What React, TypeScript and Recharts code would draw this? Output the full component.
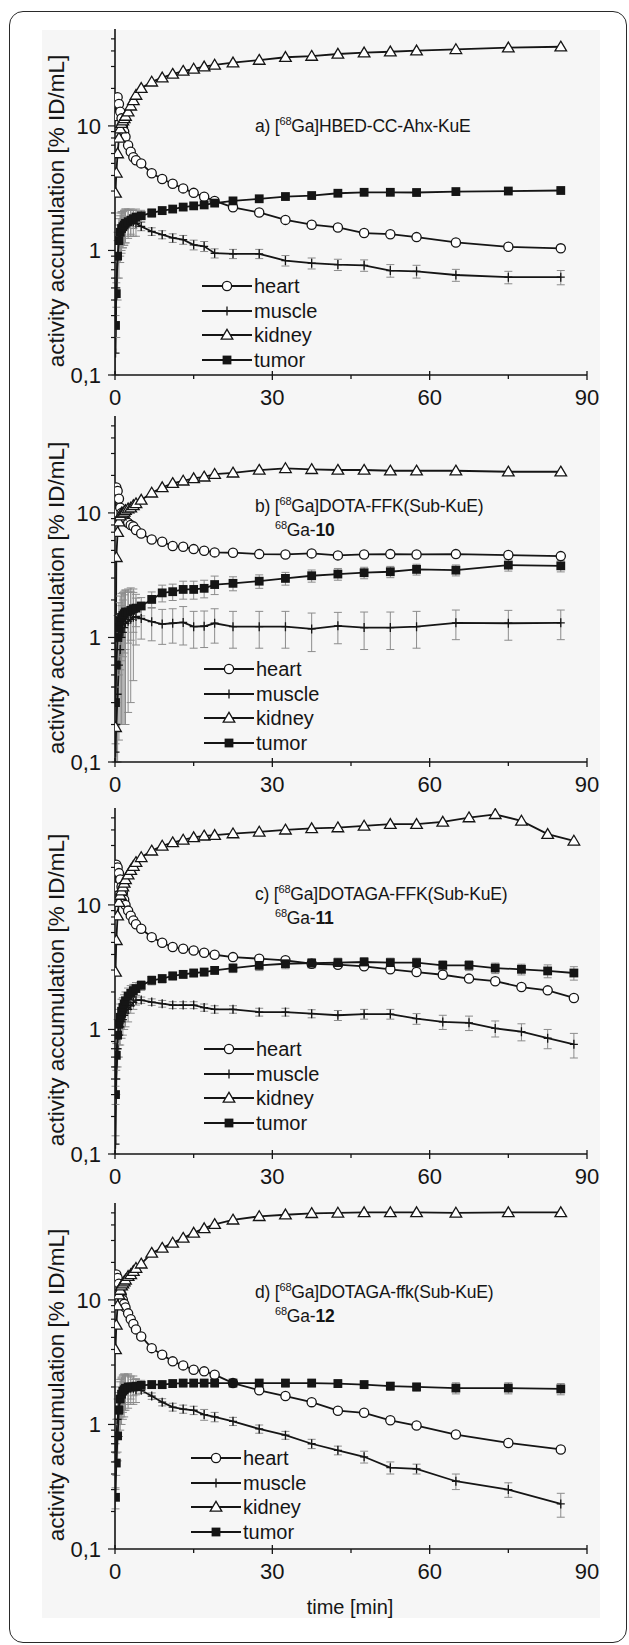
import React from "react";
import { LineChart, Line, XAxis, YAxis, ErrorBar, Legend } from "recharts";

// frame mid-times [min]
const timesABD = [0.1, 0.25, 0.5, 0.75, 1, 1.25, 1.5, 1.75, 2, 2.5, 3, 3.5, 4, 5, 7, 9, 11, 13, 15, 17, 19, 22.5, 27.5, 32.5, 37.5, 42.5, 47.5, 52.5, 57.5, 65, 75, 85];
const timesC = [0.1, 0.25, 0.5, 0.75, 1, 1.25, 1.5, 1.75, 2, 2.5, 3, 3.5, 4, 5, 7, 9, 11, 13, 15, 17, 19, 22.5, 27.5, 32.5, 37.5, 42.5, 47.5, 52.5, 57.5, 62.5, 67.5, 72.5, 77.5, 82.5, 87.5];

// a) [68Ga]HBED-CC-Ahx-KuE
const heartA = [12, 16.5, 17, 15, 13, 11.5, 10, 9, 8.2, 7, 6.2, 5.6, 5.3, 5.0, 4.17, 3.75, 3.43, 3.15, 2.9, 2.7, 2.5, 2.22, 2.02, 1.76, 1.61, 1.53, 1.38, 1.35, 1.28, 1.16, 1.07, 1.04];
const muscleA = [0.15, 0.5, 0.9, 1.2, 1.4, 1.5, 1.55, 1.6, 1.65, 1.7, 1.7, 1.7, 1.65, 1.56, 1.42, 1.34, 1.26, 1.22, 1.11, 1.08, 0.95, 0.94, 0.94, 0.83, 0.79, 0.77, 0.76, 0.69, 0.68, 0.635, 0.61, 0.61];
const kidneyA = [2.9, 4.2, 6.0, 8.0, 9.5, 10.5, 11, 11.5, 12, 13, 14.5, 16, 17.7, 20.1, 22.6, 24.4, 26.1, 27.6, 28.7, 29.9, 30.9, 32.2, 33.8, 35.6, 36.4, 37.8, 38.7, 39.4, 40.2, 41.2, 42.5, 43.2];
const tumorA = [0.25, 0.45, 0.9, 1.2, 1.4, 1.5, 1.55, 1.6, 1.65, 1.7, 1.75, 1.8, 1.85, 1.9, 2.0, 2.09, 2.15, 2.23, 2.28, 2.32, 2.4, 2.5, 2.6, 2.71, 2.76, 2.88, 2.93, 2.93, 2.92, 2.97, 3.0, 3.03];
const muscleErrA = [0.05, 0.3, 0.5, 0.6, 0.6, 0.55, 0.5, 0.5, 0.5, 0.45, 0.4, 0.4, 0.35, 0.12, 0.1, 0.1, 0.1, 0.1, 0.1, 0.1, 0.08, 0.08, 0.08, 0.08, 0.08, 0.08, 0.08, 0.08, 0.08, 0.07, 0.07, 0.08];
const tumorErrA = [0.05, 0.1, 0.3, 0.4, 0.5, 0.5, 0.5, 0.5, 0.5, 0.4, 0.4, 0.3, 0.3, 0.2, 0.15, 0.15, 0.12, 0.12, 0.1, 0.1, 0.1, 0.1, 0.1, 0.1, 0.1, 0.1, 0.1, 0.1, 0.1, 0.1, 0.1, 0.1];

// b) [68Ga]DOTA-FFK(Sub-KuE)
const heartB = [10, 16, 15, 13, 11, 10, 9.5, 9, 8.7, 8.3, 8, 7.8, 7.3, 6.84, 6.12, 5.87, 5.42, 5.35, 5.12, 4.97, 4.82, 4.79, 4.67, 4.64, 4.73, 4.56, 4.64, 4.67, 4.64, 4.67, 4.59, 4.5];
const muscleB = [0.12, 0.2, 0.35, 0.6, 0.8, 1.0, 1.1, 1.2, 1.3, 1.35, 1.4, 1.45, 1.47, 1.42, 1.34, 1.28, 1.3, 1.32, 1.22, 1.23, 1.3, 1.22, 1.22, 1.22, 1.17, 1.24, 1.2, 1.2, 1.22, 1.31, 1.3, 1.31];
const kidneyB = [0.19, 4.4, 7, 8.5, 9.5, 10, 10, 10.2, 10.5, 10.8, 11, 11.5, 11.9, 12.7, 14.5, 16.0, 17.3, 18.1, 18.9, 19.5, 20.5, 21.0, 22.1, 22.8, 22.4, 22.1, 22.1, 21.8, 21.8, 21.8, 21.4, 21.4];
const tumorB = [0.3, 0.6, 1.0, 1.2, 1.35, 1.45, 1.5, 1.55, 1.6, 1.6, 1.65, 1.7, 1.72, 1.79, 2.02, 2.28, 2.33, 2.43, 2.43, 2.48, 2.66, 2.72, 2.83, 2.98, 3.13, 3.23, 3.31, 3.37, 3.52, 3.47, 3.81, 3.76];
const muscleErrB = [0.02, 0.1, 0.25, 0.45, 0.6, 0.8, 0.9, 1.0, 1.1, 1.1, 1.1, 1.0, 0.6, 0.45, 0.4, 0.4, 0.4, 0.45, 0.4, 0.4, 0.4, 0.4, 0.4, 0.4, 0.4, 0.35, 0.4, 0.4, 0.4, 0.35, 0.35, 0.35];
const tumorErrB = [0.1, 0.3, 0.5, 0.7, 0.8, 0.8, 0.8, 0.8, 0.8, 0.7, 0.7, 0.6, 0.5, 0.3, 0.3, 0.35, 0.35, 0.4, 0.4, 0.4, 0.45, 0.35, 0.35, 0.35, 0.35, 0.35, 0.35, 0.35, 0.35, 0.35, 0.4, 0.4];

// c) [68Ga]DOTAGA-FFK(Sub-KuE)
const heartC = [14, 21, 20, 18, 16, 14, 12.5, 11, 10, 9, 8.2, 7.5, 7.0, 6.43, 5.51, 4.97, 4.59, 4.45, 4.31, 4.13, 3.98, 3.81, 3.7, 3.59, 3.37, 3.31, 3.21, 3.04, 2.89, 2.75, 2.56, 2.44, 2.19, 2.06, 1.79];
const muscleC = [0.12, 0.4, 0.7, 0.9, 1.05, 1.15, 1.2, 1.3, 1.35, 1.45, 1.55, 1.65, 1.72, 1.72, 1.66, 1.61, 1.57, 1.57, 1.57, 1.5, 1.45, 1.45, 1.38, 1.38, 1.34, 1.3, 1.33, 1.33, 1.22, 1.15, 1.13, 1.02, 0.96, 0.85, 0.76];
const kidneyC = [2.9, 5.2, 8.2, 10.5, 12, 13, 14, 15, 16, 17.5, 19, 20.5, 22, 24.1, 27.2, 29.8, 31.7, 33.3, 34.8, 35.9, 36.3, 37.4, 38.6, 40.1, 41.1, 41.8, 43.1, 44.5, 44.5, 46.4, 50.3, 53.4, 47.3, 37, 32.7];
const tumorC = [0.3, 0.62, 0.9, 1.1, 1.25, 1.4, 1.5, 1.6, 1.7, 1.85, 1.95, 2.05, 2.13, 2.26, 2.48, 2.56, 2.69, 2.77, 2.84, 2.89, 2.98, 3.11, 3.27, 3.37, 3.41, 3.44, 3.48, 3.44, 3.44, 3.27, 3.27, 3.11, 3.04, 2.95, 2.84];
const muscleErrC = [0.02, 0.1, 0.2, 0.3, 0.3, 0.3, 0.3, 0.3, 0.3, 0.3, 0.2, 0.2, 0.15, 0.1, 0.1, 0.1, 0.1, 0.1, 0.1, 0.1, 0.1, 0.1, 0.1, 0.1, 0.1, 0.12, 0.12, 0.12, 0.12, 0.15, 0.15, 0.15, 0.15, 0.15, 0.17];
const tumorErrC = [0.05, 0.15, 0.3, 0.35, 0.35, 0.35, 0.3, 0.3, 0.3, 0.3, 0.3, 0.25, 0.25, 0.2, 0.2, 0.2, 0.2, 0.2, 0.2, 0.2, 0.2, 0.25, 0.3, 0.3, 0.3, 0.3, 0.3, 0.3, 0.3, 0.3, 0.3, 0.3, 0.3, 0.35, 0.35];

// d) [68Ga]DOTAGA-ffk(Sub-KuE)
const heartD = [12, 16, 15, 13.5, 12, 11, 10, 9.3, 8.7, 7.8, 7, 6.4, 5.8, 5.09, 4.1, 3.63, 3.21, 2.98, 2.75, 2.67, 2.51, 2.15, 1.88, 1.69, 1.51, 1.29, 1.24, 1.08, 0.98, 0.83, 0.71, 0.63];
const muscleD = [0.5, 0.8, 1.1, 1.4, 1.6, 1.7, 1.8, 1.85, 1.9, 1.95, 1.95, 1.95, 1.9, 1.88, 1.69, 1.51, 1.38, 1.33, 1.3, 1.2, 1.15, 1.06, 0.92, 0.82, 0.7, 0.62, 0.55, 0.45, 0.44, 0.35, 0.3, 0.23];
const kidneyD = [4, 6.3, 9, 11, 12, 13, 13.5, 14, 14.5, 15.5, 16, 17, 18, 19.5, 23.8, 26.1, 28.7, 31.4, 34.5, 37.5, 40.5, 44, 46.9, 48.3, 49.6, 50, 50.4, 50.4, 50.4, 50, 50.4, 50.4];
const tumorD = [0.26, 0.49, 0.81, 1.3, 1.6, 1.75, 1.85, 1.9, 1.95, 2.0, 2.0, 2.0, 2.03, 2.06, 2.09, 2.09, 2.13, 2.15, 2.15, 2.15, 2.15, 2.15, 2.15, 2.15, 2.15, 2.13, 2.09, 2.03, 2.0, 1.96, 1.96, 1.93];
const muscleErrD = [0.2, 0.3, 0.5, 0.6, 0.7, 0.7, 0.7, 0.7, 0.6, 0.6, 0.5, 0.5, 0.4, 0.1, 0.1, 0.1, 0.1, 0.1, 0.1, 0.12, 0.1, 0.08, 0.07, 0.06, 0.06, 0.05, 0.06, 0.05, 0.04, 0.05, 0.04, 0.05];
const tumorErrD = [0.05, 0.1, 0.3, 0.5, 0.6, 0.6, 0.6, 0.6, 0.5, 0.5, 0.4, 0.3, 0.3, 0.2, 0.15, 0.15, 0.15, 0.15, 0.15, 0.15, 0.15, 0.15, 0.15, 0.15, 0.15, 0.15, 0.15, 0.15, 0.15, 0.2, 0.2, 0.2];

const xTicks = [0, 15, 30, 45, 60, 75, 90];
const xLabelTicks = [0, 30, 60, 90];
const yTicks = [0.1, 0.2, 0.3, 0.4, 0.5, 0.6, 0.7, 0.8, 0.9, 1, 2, 3, 4, 5, 6, 7, 8, 9, 10, 20, 30, 40, 50];
const yTickLabels: Record<string, string> = { "0.1": "0,1", "1": "1", "10": "10" };
const seriesNames = ["heart", "muscle", "kidney", "tumor"];

const FONT = 'Arial, "Liberation Sans", Helvetica, sans-serif';
const INK = "#151515";
const ERR = "#8c8c8c";

const PLOT_H = 346;
const CHART_H = 400;

const panels = [
  { id: "a", plotTop: 29, times: timesABD, heart: heartA, muscle: muscleA, kidney: kidneyA, tumor: tumorA, muscleErr: muscleErrA, tumorErr: tumorErrA, tag: "a)", name: "HBED-CC-Ahx-KuE", num: "", titleY: 127, legendX: 202, legendY: 286 },
  { id: "b", plotTop: 416, times: timesABD, heart: heartB, muscle: muscleB, kidney: kidneyB, tumor: tumorB, muscleErr: muscleErrB, tumorErr: tumorErrB, tag: "b)", name: "DOTA-FFK(Sub-KuE)", num: "10", titleY: 507, legendX: 204, legendY: 669 },
  { id: "c", plotTop: 808, times: timesC, heart: heartC, muscle: muscleC, kidney: kidneyC, tumor: tumorC, muscleErr: muscleErrC, tumorErr: tumorErrC, tag: "c)", name: "DOTAGA-FFK(Sub-KuE)", num: "11", titleY: 895, legendX: 204, legendY: 1049 },
  { id: "d", plotTop: 1203, times: timesABD, heart: heartD, muscle: muscleD, kidney: kidneyD, tumor: tumorD, muscleErr: muscleErrD, tumorErr: tumorErrD, tag: "d)", name: "DOTAGA-ffk(Sub-KuE)", num: "12", titleY: 1293, legendX: 191, legendY: 1458 },
];

const circleMark = (cx: number, cy: number, k?: string) => (
  <circle key={k} cx={cx} cy={cy} r={4.6} fill="#fff" stroke={INK} strokeWidth={1.3} />
);
const plusMark = (cx: number, cy: number, k?: string) => (
  <path key={k} d={`M${cx - 4},${cy} H${cx + 4} M${cx},${cy - 4.5} V${cy + 4.5}`} stroke={INK} strokeWidth={1.3} fill="none" />
);
const triMark = (cx: number, cy: number, k?: string) => (
  <path key={k} d={`M${cx},${cy - 5.6} L${cx + 5.8},${cy + 4.2} L${cx - 5.8},${cy + 4.2} Z`} fill="#fff" stroke={INK} strokeWidth={1.3} strokeLinejoin="miter" />
);
const squareMark = (cx: number, cy: number, k?: string) => (
  <rect key={k} x={cx - 4.4} y={cy - 4.4} width={8.8} height={8.8} fill={INK} />
);
const markers = [circleMark, plusMark, triMark, squareMark];

const dotFor = (mark: (cx: number, cy: number, k?: string) => React.ReactElement) => (p: any) => {
  const k = `m-${p.index}`;
  if (p.cx == null || p.cy == null) return <g key={k} />;
  return mark(p.cx, p.cy, k);
};

// x axis box is 1px tall; its top edge sits on the plot bottom
const XTick = (p: any) => {
  const { x, y, payload } = p;
  const v = payload.value;
  const major = xLabelTicks.includes(v);
  return (
    <g>
      <line x1={x} x2={x} y1={major ? y - 4 : y} y2={major ? y + 5 : y + 4} stroke={INK} strokeWidth={1.3} />
      {major && (
        <text x={x} y={y + 30} textAnchor="middle" fontSize={22} fontFamily={FONT} fill={INK}>
          {v}
        </text>
      )}
    </g>
  );
};

const YTick = (p: any) => {
  const { x, y, payload } = p;
  const label = yTickLabels[String(payload.value)];
  return (
    <g>
      <line x1={x - (label ? 7 : 4)} x2={x} y1={y} y2={y} stroke={INK} strokeWidth={1.2} />
      {label && (
        <text x={x - 14} y={y + 8} textAnchor="end" fontSize={22} fontFamily={FONT} fill={INK}>
          {label}
        </text>
      )}
    </g>
  );
};

const LegendBox = () => (
  <div style={{ fontFamily: FONT, fontSize: 20, color: INK }}>
    {seriesNames.map((n, i) => (
      <div key={n} style={{ display: "flex", alignItems: "center", height: 24.7 }}>
        <svg width={52} height={20} style={{ display: "block" }}>
          <line x1={0} x2={50} y1={10} y2={10} stroke={INK} strokeWidth={1.8} />
          {markers[i](25, 10)}
        </svg>
        <span style={{ lineHeight: "20px" }}>{n}</span>
      </div>
    ))}
  </div>
);

function Panel({ cfg }: { cfg: (typeof panels)[number] }) {
  const rows = cfg.times.map((t, i) => ({
    t,
    heart: cfg.heart[i],
    muscle: cfg.muscle[i],
    kidney: cfg.kidney[i],
    tumor: cfg.tumor[i],
    muscleErr: cfg.muscleErr[i],
    tumorErr: cfg.tumorErr[i],
  }));
  const chartTop = cfg.plotTop - 20;
  return (
    <div style={{ position: "absolute", left: 0, top: chartTop, width: 629, height: CHART_H }}>
      <LineChart width={629} height={CHART_H} data={rows} margin={{ top: 20, right: 42, bottom: CHART_H - 20 - PLOT_H - 1, left: 114 }}>
        <XAxis
          dataKey="t"
          type="number"
          domain={[0, 90]}
          allowDataOverflow
          ticks={xTicks}
          interval={0}
          height={1}
          tickSize={0}
          tickMargin={0}
          tickLine={false}
          axisLine={{ stroke: INK, strokeWidth: 1.6 }}
          tick={XTick}
        />
        <YAxis
          type="number"
          scale="log"
          domain={[0.1, 60]}
          allowDataOverflow
          ticks={yTicks}
          interval={0}
          width={1}
          tickSize={0}
          tickMargin={0}
          tickLine={false}
          axisLine={{ stroke: INK, strokeWidth: 1.6 }}
          tick={YTick}
        />
        <Legend
          layout="horizontal"
          verticalAlign="middle"
          align="center"
          content={LegendBox}
          wrapperStyle={{ left: cfg.legendX, top: cfg.legendY - 12.35 - chartTop, width: 160, height: 100 }}
        />
        <Line dataKey="heart" stroke={INK} strokeWidth={1.8} dot={dotFor(circleMark)} isAnimationActive={false} />
        <Line dataKey="muscle" stroke={INK} strokeWidth={1.8} dot={dotFor(plusMark)} isAnimationActive={false}>
          <ErrorBar dataKey="muscleErr" width={4} stroke={ERR} strokeWidth={1} direction="y" isAnimationActive={false} />
        </Line>
        <Line dataKey="kidney" stroke={INK} strokeWidth={1.8} dot={dotFor(triMark)} isAnimationActive={false} />
        <Line dataKey="tumor" stroke={INK} strokeWidth={1.8} dot={dotFor(squareMark)} isAnimationActive={false}>
          <ErrorBar dataKey="tumorErr" width={4} stroke={ERR} strokeWidth={1} direction="y" isAnimationActive={false} />
        </Line>
      </LineChart>
    </div>
  );
}

const sup = (s: string) => (
  <span style={{ fontSize: 11, position: "relative", top: -7 }}>{s}</span>
);

export default function App() {
  return (
    <div style={{ position: "absolute", left: 0, top: 0, width: 629, height: 1645, overflow: "hidden", background: "#fff", fontFamily: FONT, color: INK }}>
      <div style={{ position: "absolute", left: 42, top: 30, width: 558, height: 1588, background: "#f6f6f6" }} />
      <div style={{ position: "absolute", left: 9, top: 11, width: 618, height: 1632, border: "1.5px solid #2a2a2a", borderRadius: 14, boxSizing: "border-box" }} />
      {panels.map((cfg) => (
        <React.Fragment key={cfg.id}>
          <Panel cfg={cfg} />
          <div
            style={{
              position: "absolute",
              left: 57,
              top: cfg.plotTop + 182,
              transform: "translate(-50%, -50%) rotate(-90deg)",
              whiteSpace: "nowrap",
              fontSize: 22.5,
            }}
          >
            activity accumulation [% ID/mL]
          </div>
          <div style={{ position: "absolute", left: 255, top: cfg.titleY - 11, fontSize: 17.5, lineHeight: "21.5px", whiteSpace: "nowrap", letterSpacing: -0.2 }}>
            <div>
              {cfg.tag} [{sup("68")}Ga]{cfg.name}
            </div>
            {cfg.num && (
              <div style={{ paddingLeft: 20 }}>
                {sup("68")}Ga-<b>{cfg.num}</b>
              </div>
            )}
          </div>
        </React.Fragment>
      ))}
      <div style={{ position: "absolute", left: 350, top: 1607, transform: "translate(-50%, -50%)", fontSize: 20, whiteSpace: "nowrap" }}>
        time [min]
      </div>
    </div>
  );
}
